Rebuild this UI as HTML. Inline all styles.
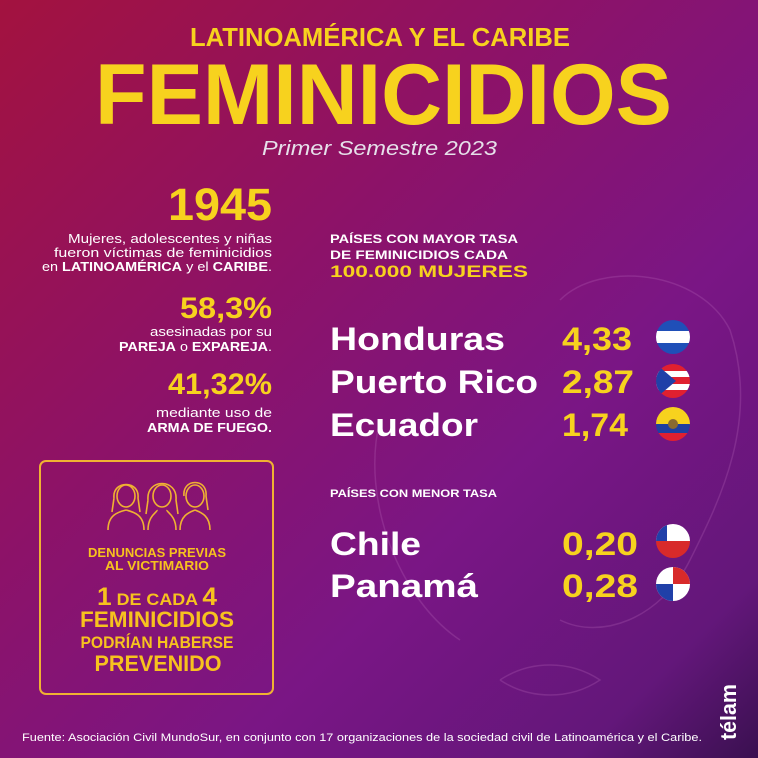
<!DOCTYPE html>
<html><head><meta charset="utf-8"><style>
html,body{margin:0;padding:0;width:758px;height:758px;overflow:hidden;background:#7a1580}
svg{display:block}
text{font-family:"Liberation Sans",sans-serif;font-weight:bold}
</style></head><body>
<svg width="758" height="758" viewBox="0 0 758 758" xmlns="http://www.w3.org/2000/svg">
<defs>
<linearGradient id="bg" x1="0" y1="0" x2="1" y2="1">
<stop offset="0" stop-color="#a3123f"/>
<stop offset="0.35" stop-color="#8e1266"/>
<stop offset="0.65" stop-color="#7a1685"/>
<stop offset="0.88" stop-color="#63177a"/>
<stop offset="1" stop-color="#3a1050"/>
</linearGradient>
<clipPath id="c1"><circle cx="673" cy="337" r="17"/></clipPath>
<clipPath id="c2"><circle cx="673" cy="381" r="17"/></clipPath>
<clipPath id="c3"><circle cx="673" cy="424" r="17"/></clipPath>
<clipPath id="c4"><circle cx="673" cy="541" r="17"/></clipPath>
<clipPath id="c5"><circle cx="673" cy="584" r="17"/></clipPath>
</defs>
<rect width="758" height="758" fill="url(#bg)"/>
<g fill="none" stroke="#c070c0" stroke-opacity="0.25" stroke-width="1.5">
<path d="M560 300 C600 260 700 270 730 330 C760 420 720 500 690 560 C660 620 600 640 560 620"/>
<path d="M380 420 C360 500 400 600 460 640"/>
<path d="M500 680 C530 660 570 660 600 680 C570 700 530 700 500 680"/>
</g>
<g fill="#f7d21e">
<text x="190" y="46" font-size="26" textLength="380" lengthAdjust="spacingAndGlyphs">LATINOAMÉRICA Y EL CARIBE</text>
<text x="95" y="124" font-size="86" textLength="577" lengthAdjust="spacingAndGlyphs">FEMINICIDIOS</text>
</g>
<text x="262" y="155" font-size="20" fill="#e6e0ea" font-style="italic" font-weight="normal" style="font-weight:normal" textLength="235" lengthAdjust="spacingAndGlyphs">Primer Semestre 2023</text>
<g fill="#f7d21e" text-anchor="end">
<text x="272" y="220" font-size="45" textLength="104" lengthAdjust="spacingAndGlyphs">1945</text>
<text x="272" y="318" font-size="30" textLength="92" lengthAdjust="spacingAndGlyphs">58,3%</text>
<text x="272" y="394" font-size="30" textLength="104" lengthAdjust="spacingAndGlyphs">41,32%</text>
</g>
<g fill="#ffffff" text-anchor="end" font-size="13">
<text x="272" y="243" style="font-weight:normal" textLength="204" lengthAdjust="spacingAndGlyphs">Mujeres, adolescentes y niñas</text>
<text x="272" y="257" style="font-weight:normal" textLength="218" lengthAdjust="spacingAndGlyphs">fueron víctimas de feminicidios</text>
<text x="272" y="271" style="font-weight:normal" textLength="230" lengthAdjust="spacingAndGlyphs">en <tspan font-weight="bold">LATINOAMÉRICA</tspan> y el <tspan font-weight="bold">CARIBE</tspan>.</text>
<text x="272" y="336" style="font-weight:normal" textLength="122" lengthAdjust="spacingAndGlyphs">asesinadas por su</text>
<text x="272" y="351" style="font-weight:normal" textLength="153" lengthAdjust="spacingAndGlyphs"><tspan font-weight="bold">PAREJA</tspan> o <tspan font-weight="bold">EXPAREJA</tspan>.</text>
<text x="272" y="417" style="font-weight:normal" textLength="116" lengthAdjust="spacingAndGlyphs">mediante uso de</text>
<text x="272" y="432" textLength="125" lengthAdjust="spacingAndGlyphs">ARMA DE FUEGO.</text>
</g>
<rect x="40" y="461" width="233" height="233" rx="6" fill="none" stroke="#f0b232" stroke-width="2"/>
<g fill="none" stroke="#f0b232" stroke-width="1.6">
<path d="M108 530 C108 515 118 512 126 510 M144 530 C144 515 134 512 126 510"/>
<ellipse cx="126" cy="496" rx="9" ry="11"/><path d="M114 498 C112 480 140 480 138 498 L140 512 M114 498 L112 512"/>
<path d="M148 530 C148 515 158 512 157 510 M176 530 C176 515 166 512 167 510"/>
<ellipse cx="162" cy="496" rx="9" ry="11"/><path d="M148 500 C146 478 178 478 176 500 L178 514 M148 500 L146 514"/>
<path d="M180 530 C180 515 190 512 195 510 M210 530 C210 515 200 512 195 510"/>
<ellipse cx="195" cy="496" rx="9" ry="11"/><path d="M184 496 C182 478 208 478 206 496 L208 510"/>
</g>
<g fill="#f7c21e" text-anchor="middle">
<text x="157" y="557" font-size="13" textLength="138" lengthAdjust="spacingAndGlyphs">DENUNCIAS PREVIAS</text>
<text x="157" y="570" font-size="13" textLength="104" lengthAdjust="spacingAndGlyphs">AL VICTIMARIO</text>
<text x="157" y="605" font-size="17" textLength="120" lengthAdjust="spacingAndGlyphs"><tspan font-size="25">1</tspan> DE CADA <tspan font-size="25">4</tspan></text>
<text x="157" y="627" font-size="22" textLength="154" lengthAdjust="spacingAndGlyphs">FEMINICIDIOS</text>
<text x="157" y="648" font-size="17" textLength="153" lengthAdjust="spacingAndGlyphs">PODRÍAN HABERSE</text>
<text x="158" y="671" font-size="22" textLength="127" lengthAdjust="spacingAndGlyphs">PREVENIDO</text>
</g>
<g fill="#ffffff">
<text x="330" y="243" font-size="12" textLength="188" lengthAdjust="spacingAndGlyphs">PAÍSES CON MAYOR TASA</text>
<text x="330" y="259" font-size="12" textLength="178" lengthAdjust="spacingAndGlyphs">DE FEMINICIDIOS CADA</text>
<text x="330" y="497" font-size="11" textLength="167" lengthAdjust="spacingAndGlyphs">PAÍSES CON MENOR TASA</text>
<text x="330" y="350" font-size="32" textLength="175" lengthAdjust="spacingAndGlyphs">Honduras</text>
<text x="330" y="393" font-size="32" textLength="208" lengthAdjust="spacingAndGlyphs">Puerto Rico</text>
<text x="330" y="436" font-size="32" textLength="148" lengthAdjust="spacingAndGlyphs">Ecuador</text>
<text x="330" y="555" font-size="32" textLength="91" lengthAdjust="spacingAndGlyphs">Chile</text>
<text x="330" y="597" font-size="32" textLength="148" lengthAdjust="spacingAndGlyphs">Panamá</text>
</g>
<g fill="#f7d21e">
<text x="330" y="277" font-size="17" textLength="198" lengthAdjust="spacingAndGlyphs">100.000 MUJERES</text>
<text x="562" y="350" font-size="32" textLength="70" lengthAdjust="spacingAndGlyphs">4,33</text>
<text x="562" y="393" font-size="32" textLength="72" lengthAdjust="spacingAndGlyphs">2,87</text>
<text x="562" y="436" font-size="32" textLength="66" lengthAdjust="spacingAndGlyphs">1,74</text>
<text x="562" y="555" font-size="32" textLength="76" lengthAdjust="spacingAndGlyphs">0,20</text>
<text x="562" y="597" font-size="32" textLength="76" lengthAdjust="spacingAndGlyphs">0,28</text>
</g>
<g clip-path="url(#c1)"><rect x="650" y="315" width="46" height="46" fill="#1f4fb8"/><rect x="650" y="331" width="46" height="12" fill="#fff"/></g>
<g clip-path="url(#c2)"><rect x="650" y="360" width="46" height="46" fill="#e02030"/><rect x="650" y="371" width="46" height="6" fill="#fff"/><rect x="650" y="384" width="46" height="6" fill="#fff"/><path d="M656 364 L676 381 L656 398Z" fill="#2040a8"/></g>
<g clip-path="url(#c3)"><rect x="650" y="405" width="46" height="20" fill="#f7d21e"/><rect x="650" y="424" width="46" height="9" fill="#1f3fa0"/><rect x="650" y="433" width="46" height="12" fill="#e02030"/><circle cx="673" cy="424" r="5" fill="#8a6a30"/></g>
<g clip-path="url(#c4)"><rect x="650" y="520" width="46" height="21" fill="#fff"/><rect x="650" y="541" width="46" height="22" fill="#d82a2a"/><rect x="650" y="520" width="17" height="21" fill="#2040a8"/></g>
<g clip-path="url(#c5)"><rect x="650" y="563" width="46" height="46" fill="#fff"/><rect x="673" y="563" width="23" height="21" fill="#d82a2a"/><rect x="650" y="584" width="23" height="23" fill="#2040a8"/></g>
<text x="22" y="741" font-size="11" fill="#ffffff" style="font-weight:normal" textLength="680" lengthAdjust="spacingAndGlyphs">Fuente: Asociación Civil MundoSur, en conjunto con 17 organizaciones de la sociedad civil de Latinoamérica y el Caribe.</text>
<text transform="translate(736,740) rotate(-90)" font-size="22" fill="#ffffff" textLength="56" lengthAdjust="spacingAndGlyphs">télam</text>
</svg>
</body></html>
